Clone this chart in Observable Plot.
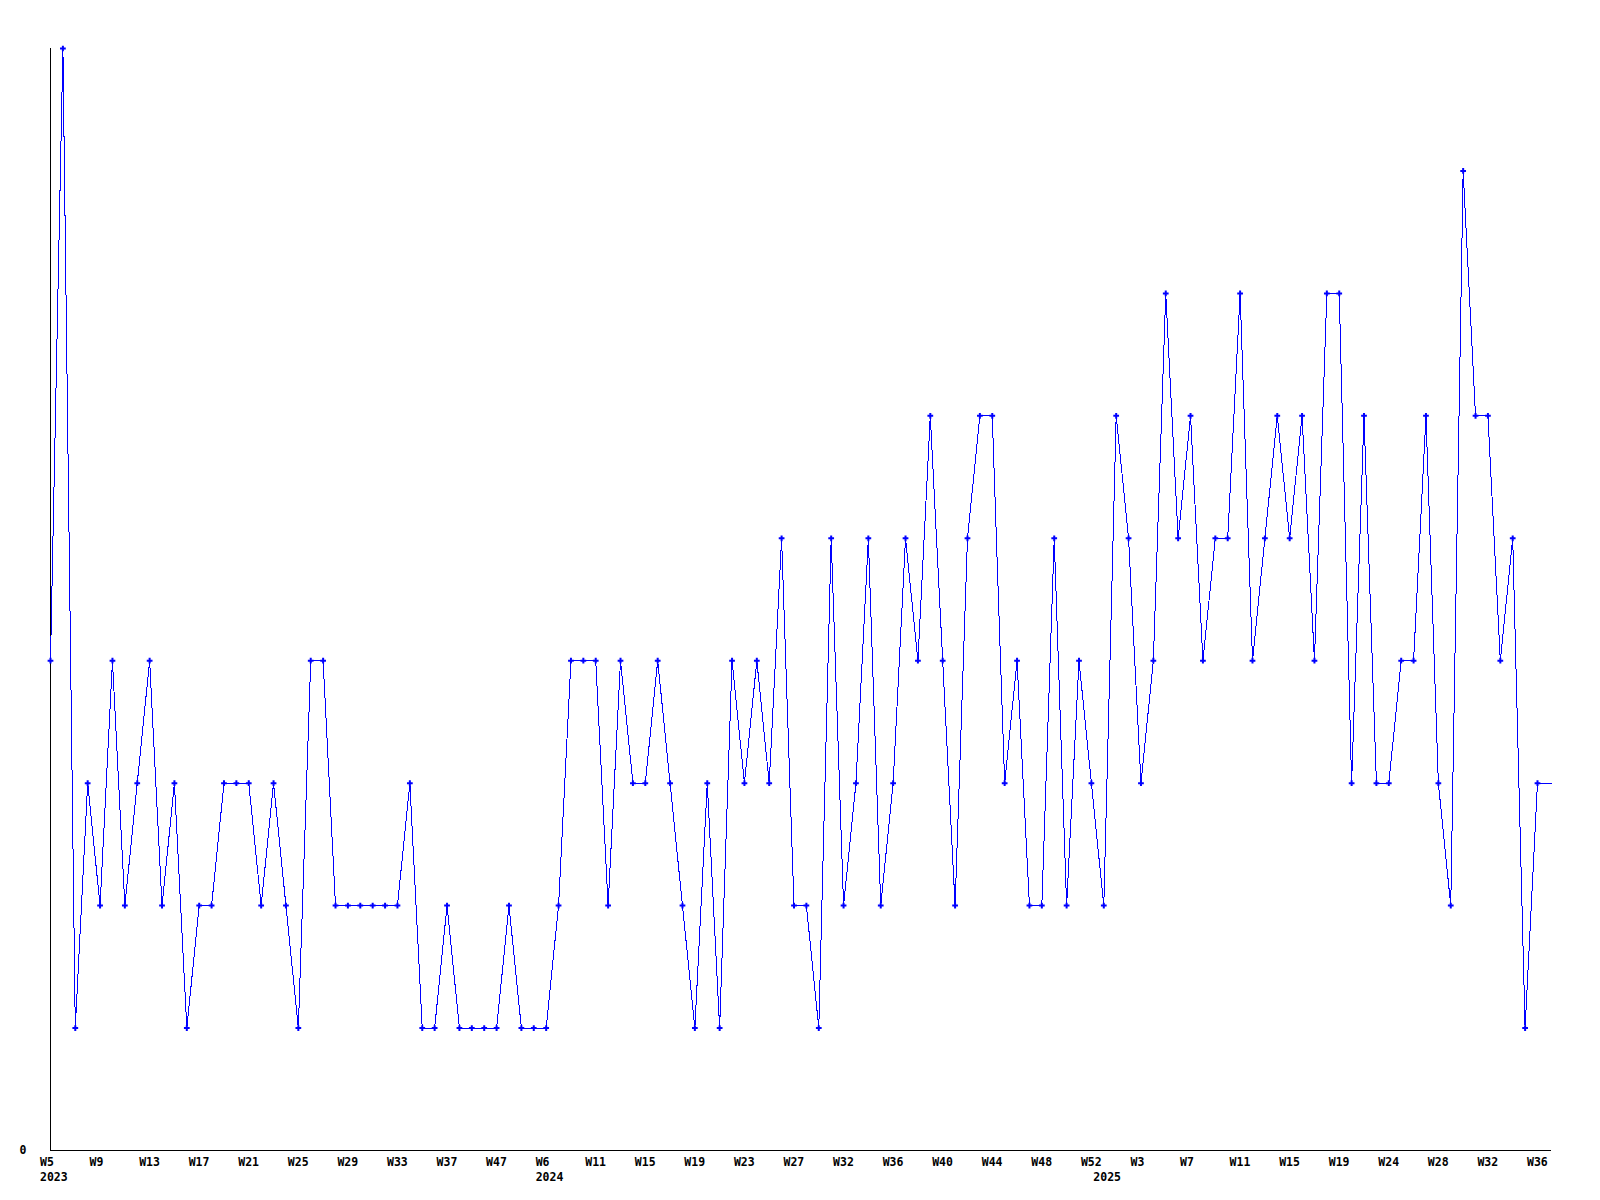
<!DOCTYPE html>
<html>
<head>
<meta charset="utf-8">
<script src="https://cdn.jsdelivr.net/npm/d3@7"></script>
<script src="https://cdn.jsdelivr.net/npm/@observablehq/plot@0.6"></script>
<style>
  html, body { margin: 0; padding: 0; background: #ffffff; }
  #chart svg { display: block; }
</style>
</head>
<body>
<div id="chart"></div>
<script>
// Weekly counts, one record per sequence position (x axis is ordinal by record)
const values = [
  4, 9, 1, 3, 2, 4, 2, 3, 4, 2,
  3, 1, 2, 2, 3, 3, 3, 2, 3, 2,
  1, 4, 4, 2, 2, 2, 2, 2, 2, 3,
  1, 1, 2, 1, 1, 1, 1, 2, 1, 1,
  1, 2, 4, 4, 4, 2, 4, 3, 3, 4,
  3, 2, 1, 3, 1, 4, 3, 4, 3, 5,
  2, 2, 1, 5, 2, 3, 5, 2, 3, 5,
  4, 6, 4, 2, 5, 6, 6, 3, 4, 2,
  2, 5, 2, 4, 3, 2, 6, 5, 3, 4,
  7, 5, 6, 4, 5, 5, 7, 4, 5, 6,
  5, 6, 4, 7, 7, 3, 6, 3, 3, 4,
  4, 6, 3, 2, 8, 6, 6, 4, 5, 1, 3
];
// Current (partial) period: the last value carries on to this position
const currentPosition = 121.13;

// Tick labels, one every 4 records
const tickStep = 4;
const weekLabels = [
  "W5", "W9", "W13", "W17", "W21", "W25", "W29", "W33", "W37", "W47",
  "W6", "W11", "W15", "W19", "W23", "W27", "W32", "W36", "W40", "W44", "W48", "W52",
  "W3", "W7", "W11", "W15", "W19", "W24", "W28", "W32", "W36"
];
// Year labels at the first record of each year
const years = ["2023", "2024", "2025"];
const yearStarts = [0, 40, 85];

const yMax = 9;

const points = values.map((v, i) => ({i, v}));
const linePts = points.concat([{i: currentPosition, v: values[values.length - 1]}]);
const ticks = weekLabels.map((label, k) => ({i: k * tickStep, label}));
const yearTicks = years.map((label, k) => ({i: yearStarts[k], label}));

const blue = "#0000ff";

const chart = Plot.plot({
  width: 1600,
  height: 1200,
  marginLeft: 50,
  marginRight: 49,
  marginTop: 48,
  marginBottom: 50,
  style: {
    background: "#ffffff",
    fontFamily: "'DejaVu Sans Mono', 'Liberation Mono', monospace",
    fontSize: "11.5px",
    fontWeight: "bold",
    color: "#000000"
  },
  x: {type: "linear", domain: [0, currentPosition], axis: null},
  y: {type: "linear", domain: [0, yMax], axis: null},
  marks: [
    Plot.ruleX([0], {y1: 0, y2: yMax, stroke: "#000000", strokeWidth: 1, shapeRendering: "crispEdges"}),
    Plot.ruleY([0], {stroke: "#000000", strokeWidth: 1, shapeRendering: "crispEdges"}),
    Plot.line(linePts, {x: "i", y: "v", stroke: blue, strokeWidth: 1, shapeRendering: "crispEdges"}),
    Plot.dot(points, {x: "i", y: "v", symbol: "plus", r: 2, stroke: blue, strokeWidth: 2}),
    Plot.text([0], {x: 0, y: 0, text: () => "0", textAnchor: "end", dx: -24, dy: 0, fill: "#000000"}),
    Plot.text(ticks, {x: "i", y: () => 0, text: "label", textAnchor: "start", dx: -10.5, dy: 12, fill: "#000000"}),
    Plot.text(yearTicks, {x: "i", y: () => 0, text: "label", textAnchor: "start", dx: -10.5, dy: 27, fill: "#000000"})
  ]
});

document.getElementById("chart").appendChild(chart);
</script>
</body>
</html>
